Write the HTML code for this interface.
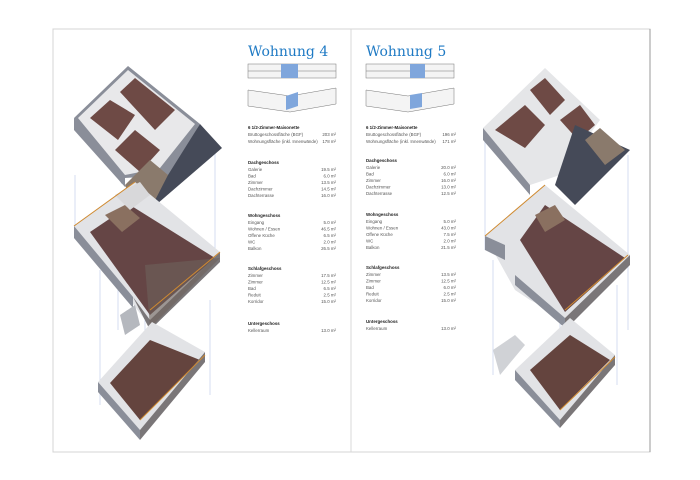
<!DOCTYPE html>
<html><head><meta charset="utf-8"><style>
html,body{margin:0;padding:0;background:#fff;width:700px;height:480px;overflow:hidden}
svg{display:block}
.t{font-family:"Liberation Sans",sans-serif;font-size:4.4px;fill:#555}
.b{font-family:"Liberation Sans",sans-serif;font-size:4.4px;font-weight:bold;fill:#222}
.h{font-family:"DejaVu Serif","Liberation Serif",serif;font-size:14px;fill:#1f7ac4}
</style></head><body>
<svg width="700" height="480" viewBox="0 0 700 480">
<rect x="53" y="29" width="597" height="423" fill="#fff" stroke="#d4d4d4" stroke-width="1"/>
<line x1="351" y1="29" x2="351" y2="452" stroke="#d8d8d8" stroke-width="1"/>
<line x1="650" y1="29" x2="650" y2="452" stroke="#999" stroke-width="1"/>

<!-- LEFT DRAWING -->
<g>
<line x1="75" y1="175" x2="75" y2="225" stroke="#b8c8e8" stroke-width="0.6"/>
<line x1="215" y1="152" x2="215" y2="255" stroke="#b8c8e8" stroke-width="0.6"/>
<line x1="100" y1="270" x2="100" y2="405" stroke="#b8c8e8" stroke-width="0.6"/>
<line x1="145" y1="320" x2="145" y2="405" stroke="#b8c8e8" stroke-width="0.6"/>
<line x1="210" y1="300" x2="210" y2="395" stroke="#b8c8e8" stroke-width="0.6"/>
<line x1="118" y1="290" x2="118" y2="330" stroke="#b8c8e8" stroke-width="0.6"/>
<polygon points="74,118 128,66 200,124 170,175 125,178 122,184" fill="#8a8e99"/>
<polygon points="78,118 128,70 195,124 160,168 125,175" fill="#e8e8ea"/>
<polygon points="90,118 110,100 135,115 118,140" fill="#6e4a45"/>
<polygon points="120,92 135,78 175,110 155,130" fill="#6e4a45"/>
<polygon points="115,150 135,130 160,150 140,172" fill="#6e4a45"/>
<polygon points="74,118 125,178 125,187 74,130" fill="#8a8e99"/>
<polygon points="200,124 222,148 150,210 125,186 168,175" fill="#454a58"/>
<polygon points="125,185 150,160 168,175 150,210 128,193" fill="#8a7a6c"/>
<polygon points="74,226 135,182 220,252 150,320 145,320" fill="#e2e3e6"/>
<polygon points="90,232 130,205 215,258 150,315" fill="#654545"/>
<polygon points="74,226 133,297 133,308 74,238" fill="#8a8e99"/>
<polygon points="133,297 150,320 220,252 220,262 150,330" fill="#7a7678"/>
<polygon points="145,265 220,258 150,328" fill="#6e625c" opacity="0.6"/>
<polygon points="105,215 125,205 140,218 122,232" fill="#8a7060"/>
<polygon points="115,195 140,182 150,195 130,210" fill="#d8d8da"/>
<polyline points="74,226 135,182" stroke="#d08a30" stroke-width="1" fill="none"/>
<polyline points="150,310 220,252" stroke="#d08a30" stroke-width="1" fill="none"/>
<polygon points="120,315 135,305 140,325 125,335" fill="#b5b8be"/>
<polygon points="98,382 152,322 205,352 140,430" fill="#e2e3e6"/>
<polygon points="110,383 150,340 200,360 140,420" fill="#64443e"/>
<polygon points="98,382 140,430 140,440 98,392" fill="#8a8e99"/>
<polygon points="140,430 205,352 205,362 140,440" fill="#7a7678"/>
<polyline points="140,420 205,355" stroke="#d08a30" stroke-width="1" fill="none"/>
</g>

<!-- RIGHT DRAWING -->
<g>
<line x1="485" y1="140" x2="485" y2="250" stroke="#b8c8e8" stroke-width="0.6"/>
<line x1="628" y1="155" x2="628" y2="330" stroke="#b8c8e8" stroke-width="0.6"/>
<line x1="493" y1="260" x2="493" y2="375" stroke="#b8c8e8" stroke-width="0.6"/>
<line x1="560" y1="320" x2="560" y2="400" stroke="#b8c8e8" stroke-width="0.6"/>
<line x1="617" y1="285" x2="617" y2="385" stroke="#b8c8e8" stroke-width="0.6"/>
<polygon points="483,128 545,68 600,120 560,175 530,185" fill="#e5e6e8"/>
<polygon points="495,130 525,105 545,125 525,148" fill="#6e4a45"/>
<polygon points="530,90 545,78 565,100 550,115" fill="#6e4a45"/>
<polygon points="560,120 580,105 595,125 578,140" fill="#6e4a45"/>
<polygon points="483,128 530,185 530,195 483,140" fill="#8a8e99"/>
<polygon points="575,125 630,150 575,205 555,185" fill="#454a58"/>
<polygon points="585,140 600,128 625,150 605,165" fill="#8a7a6c"/>
<polygon points="485,236 545,185 630,255 565,318 530,300 515,290" fill="#e2e3e6"/>
<polygon points="520,240 545,205 625,258 565,312" fill="#654545"/>
<polygon points="485,236 485,250 505,260 505,245" fill="#8a8e99"/>
<polygon points="515,275 565,318 565,328 515,285" fill="#8a8e99"/>
<polygon points="565,318 630,255 630,265 565,330" fill="#7a7678"/>
<polygon points="535,215 555,205 565,220 545,232" fill="#8a7060"/>
<polyline points="485,236 545,185" stroke="#d08a30" stroke-width="1" fill="none"/>
<polyline points="565,310 628,255" stroke="#d08a30" stroke-width="1" fill="none"/>
<polygon points="493,350 515,335 525,345 500,375" fill="#d0d2d6"/>
<polygon points="515,370 570,318 615,355 560,420" fill="#e2e3e6"/>
<polygon points="530,370 570,335 610,360 560,410" fill="#64443e"/>
<polygon points="515,370 560,420 560,428 515,380" fill="#8a8e99"/>
<polygon points="560,420 615,355 615,365 560,428" fill="#7a7678"/>
<polyline points="560,410 615,357" stroke="#d08a30" stroke-width="1" fill="none"/>
</g>

<!-- LEFT TEXT -->
<text x="248" y="56" class="h">Wohnung 4</text>
<g fill="#f4f4f4" stroke="#777" stroke-width="0.5">
<rect x="248" y="64" width="88" height="14"/>
<line x1="248" y1="71" x2="336" y2="71"/>
<polygon points="248,90 290,96 336,88 336,104 290,112 248,106"/>
</g>
<rect x="281" y="64" width="17" height="14" fill="#7fa6dc"/>
<polygon points="286,96 298,92 298,106 286,110" fill="#7fa6dc"/>
<g class="t">
<text x="248" y="129" class="b">6 1/2-Zimmer-Maisonette</text>
<text x="248" y="136">Bruttogeschossfläche (BGF)</text><text x="336" y="136" text-anchor="end">203 m²</text>
<text x="248" y="143">Wohnungsfläche (inkl. Innenwände)</text><text x="336" y="143" text-anchor="end">178 m²</text>
<text x="248" y="164" class="b">Dachgeschoss</text>
<text x="248" y="171">Galerie</text><text x="336" y="171" text-anchor="end">19.5 m²</text>
<text x="248" y="177.5">Bad</text><text x="336" y="177.5" text-anchor="end">6.0 m²</text>
<text x="248" y="184">Zimmer</text><text x="336" y="184" text-anchor="end">13.5 m²</text>
<text x="248" y="190.5">Dachzimmer</text><text x="336" y="190.5" text-anchor="end">14.5 m²</text>
<text x="248" y="197">Dachterrasse</text><text x="336" y="197" text-anchor="end">16.0 m²</text>
<text x="248" y="217" class="b">Wohngeschoss</text>
<text x="248" y="224">Eingang</text><text x="336" y="224" text-anchor="end">5.0 m²</text>
<text x="248" y="230.5">Wohnen / Essen</text><text x="336" y="230.5" text-anchor="end">46.5 m²</text>
<text x="248" y="237">Offene Küche</text><text x="336" y="237" text-anchor="end">6.5 m²</text>
<text x="248" y="243.5">WC</text><text x="336" y="243.5" text-anchor="end">2.0 m²</text>
<text x="248" y="250">Balkon</text><text x="336" y="250" text-anchor="end">26.5 m²</text>
<text x="248" y="270" class="b">Schlafgeschoss</text>
<text x="248" y="277">Zimmer</text><text x="336" y="277" text-anchor="end">17.5 m²</text>
<text x="248" y="283.5">Zimmer</text><text x="336" y="283.5" text-anchor="end">12.5 m²</text>
<text x="248" y="290">Bad</text><text x="336" y="290" text-anchor="end">6.5 m²</text>
<text x="248" y="296.5">Reduit</text><text x="336" y="296.5" text-anchor="end">2.5 m²</text>
<text x="248" y="303">Korridor</text><text x="336" y="303" text-anchor="end">15.0 m²</text>
<text x="248" y="325" class="b">Untergeschoss</text>
<text x="248" y="332">Kellerraum</text><text x="336" y="332" text-anchor="end">13.0 m²</text>
</g>

<!-- RIGHT TEXT -->
<text x="366" y="56" class="h">Wohnung 5</text>
<g fill="#f4f4f4" stroke="#777" stroke-width="0.5">
<rect x="366" y="64" width="88" height="14"/>
<line x1="366" y1="71" x2="454" y2="71"/>
<polygon points="366,90 408,96 454,88 454,104 408,112 366,106"/>
</g>
<rect x="410" y="64" width="15" height="14" fill="#7fa6dc"/>
<polygon points="410,95 422,93 422,107 410,109" fill="#7fa6dc"/>
<g class="t">
<text x="366" y="129" class="b">6 1/2-Zimmer-Maisonette</text>
<text x="366" y="136">Bruttogeschossfläche (BGF)</text><text x="456" y="136" text-anchor="end">196 m²</text>
<text x="366" y="143">Wohnungsfläche (inkl. Innenwände)</text><text x="456" y="143" text-anchor="end">171 m²</text>
<text x="366" y="162" class="b">Dachgeschoss</text>
<text x="366" y="169">Galerie</text><text x="456" y="169" text-anchor="end">20.0 m²</text>
<text x="366" y="175.5">Bad</text><text x="456" y="175.5" text-anchor="end">6.0 m²</text>
<text x="366" y="182">Zimmer</text><text x="456" y="182" text-anchor="end">16.0 m²</text>
<text x="366" y="188.5">Dachzimmer</text><text x="456" y="188.5" text-anchor="end">13.0 m²</text>
<text x="366" y="195">Dachterrasse</text><text x="456" y="195" text-anchor="end">12.5 m²</text>
<text x="366" y="216" class="b">Wohngeschoss</text>
<text x="366" y="223">Eingang</text><text x="456" y="223" text-anchor="end">5.0 m²</text>
<text x="366" y="229.5">Wohnen / Essen</text><text x="456" y="229.5" text-anchor="end">43.0 m²</text>
<text x="366" y="236">Offene Küche</text><text x="456" y="236" text-anchor="end">7.5 m²</text>
<text x="366" y="242.5">WC</text><text x="456" y="242.5" text-anchor="end">2.0 m²</text>
<text x="366" y="249">Balkon</text><text x="456" y="249" text-anchor="end">21.5 m²</text>
<text x="366" y="269" class="b">Schlafgeschoss</text>
<text x="366" y="276">Zimmer</text><text x="456" y="276" text-anchor="end">13.5 m²</text>
<text x="366" y="282.5">Zimmer</text><text x="456" y="282.5" text-anchor="end">12.5 m²</text>
<text x="366" y="289">Bad</text><text x="456" y="289" text-anchor="end">6.0 m²</text>
<text x="366" y="295.5">Reduit</text><text x="456" y="295.5" text-anchor="end">2.5 m²</text>
<text x="366" y="302">Korridor</text><text x="456" y="302" text-anchor="end">15.0 m²</text>
<text x="366" y="323" class="b">Untergeschoss</text>
<text x="366" y="330">Kellerraum</text><text x="456" y="330" text-anchor="end">13.0 m²</text>
</g>
</svg>
</body></html>
